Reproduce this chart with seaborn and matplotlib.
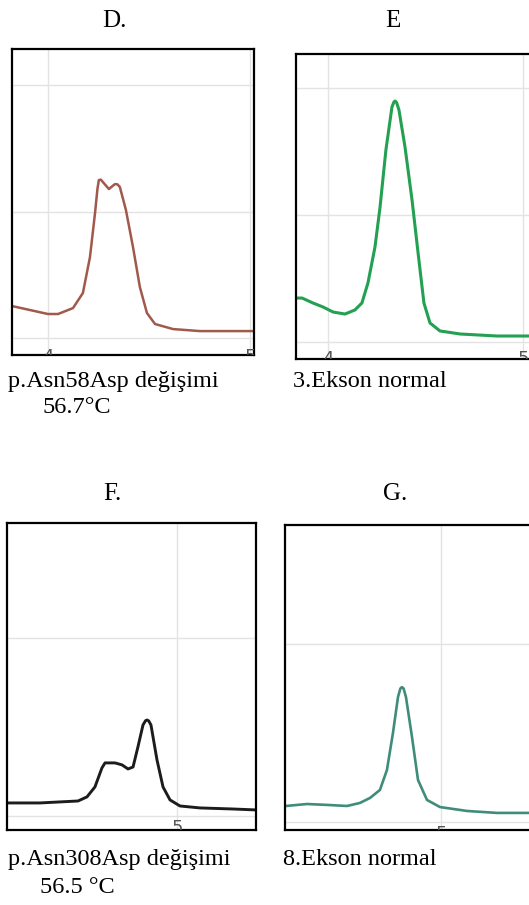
import numpy as np
import pandas as pd
import matplotlib
matplotlib.use("Agg")
from matplotlib import pyplot as plt
from matplotlib.ticker import MultipleLocator
import seaborn as sns

# === DATA (melt curves, arbitrary units)
d_temp = [3.822, 4.000, 4.050, 4.124, 4.173, 4.208, 4.233, 4.245, 4.252, 4.262, 4.272, 4.302,
          4.322, 4.332, 4.344, 4.356, 4.386, 4.421, 4.455, 4.490, 4.530, 4.619, 4.752, 5.015]
d_signal = [0.253, 0.190, 0.190, 0.237, 0.356, 0.640, 0.988, 1.180, 1.249, 1.252, 1.233, 1.178,
            1.205, 1.217, 1.215, 1.194, 1.012, 0.719, 0.403, 0.198, 0.111, 0.071, 0.055, 0.055]

e_temp = [3.841, 3.867, 3.923, 3.974, 4.026, 4.087, 4.138, 4.174, 4.205, 4.241,
          4.267, 4.297, 4.328, 4.338, 4.344, 4.352, 4.364, 4.395, 4.431, 4.462, 4.492, 4.523,
          4.574, 4.677, 4.867, 5.031]
e_signal = [0.346, 0.346, 0.307, 0.276, 0.236, 0.220, 0.252, 0.307, 0.465, 0.748,
            1.063, 1.512, 1.850, 1.890, 1.898, 1.885, 1.827, 1.535, 1.118, 0.701, 0.307, 0.150,
            0.087, 0.063, 0.047, 0.047]

f_temp = [3.786, 4.021, 4.293, 4.357, 4.414, 4.464, 4.486, 4.557, 4.607, 4.650,
          4.686, 4.721, 4.757, 4.775, 4.786, 4.798, 4.814, 4.857, 4.900, 4.950, 5.021, 5.164,
          5.400, 5.557]
f_signal = [0.073, 0.073, 0.084, 0.107, 0.163, 0.270, 0.298, 0.298, 0.287, 0.264,
            0.275, 0.388, 0.511, 0.535, 0.539, 0.534, 0.511, 0.315, 0.163, 0.090, 0.056, 0.045,
            0.039, 0.034]

g_temp = [3.893, 4.043, 4.186, 4.329, 4.421, 4.493, 4.564, 4.614, 4.657, 4.693,
          4.710, 4.721, 4.733, 4.750, 4.793, 4.836, 4.900, 4.993, 5.186, 5.400, 5.629]
g_signal = [0.090, 0.101, 0.096, 0.090, 0.107, 0.135, 0.180, 0.292, 0.500, 0.702,
            0.750, 0.758, 0.750, 0.702, 0.478, 0.236, 0.124, 0.084, 0.062, 0.051, 0.051]

titles = ["D.", "E", "F.", "G."]
caption_line1 = ["p.Asn58Asp değişimi", "3.Ekson normal", "p.Asn308Asp değişimi", "8.Ekson normal"]
caption_line2 = ["56.7°C", "", "56.5 °C", ""]
colors = ["#a0594a", "#23a052", "#1c1c1c", "#3f8c7a"]

# === LAYOUT (pixel boxes: left, top, right, bottom)
W, H = 529, 905
boxes = [(12, 49, 254, 355), (296, 54, 531, 359), (7, 523, 256, 830), (285, 525, 531, 830)]
xlims = [(3.822, 5.020), (3.836, 5.041), (3.786, 5.564), (3.886, 5.643)]
ylims = [(-0.134, 2.285), (-0.134, 2.268), (-0.079, 1.646), (-0.045, 1.669)]
xgrid = [[4, 5], [4, 5], [5], [5]]
ygrid = [[0, 1, 2], [0, 1, 2], [0, 1], [0, 1]]
title_pos = [(102, 27), (385, 27), (103, 500), (383, 500)]
caption_pos = [(8, 387), (293, 387), (8, 865), (283, 865)]
caption2_pos = [(43, 413), None, (40, 893), None]
label_y = [-0.075, -0.06, -0.02, -0.015]

series = [(d_temp, d_signal), (e_temp, e_signal), (f_temp, f_signal), (g_temp, g_signal)]
lws = [1.8, 2.2, 2.1, 1.9]

sns.set_style("white")
plt.rcParams["font.family"] = ["DejaVu Sans"]

fig = plt.figure(figsize=(W / 100, H / 100), dpi=100)

for i in range(4):
    l, t, r, b = boxes[i]
    ax = fig.add_axes([l / W, 1 - b / H, (r - l) / W, (b - t) / H])
    df = pd.DataFrame({"temp": series[i][0], "signal": series[i][1]})
    sns.lineplot(data=df, x="temp", y="signal", ax=ax, color=colors[i],
                 lw=lws[i], sort=False, estimator=None)
    ax.set_xlim(*xlims[i])
    ax.set_ylim(*ylims[i])
    ax.set_xticks(xgrid[i])
    ax.set_yticks(ygrid[i])
    ax.xaxis.set_minor_locator(MultipleLocator(0.2))
    ax.grid(True, color="#e3e3e3", lw=1.0)
    ax.set_axisbelow(True)
    ax.tick_params(axis="x", which="major", length=0, labelbottom=False)
    ax.tick_params(axis="x", which="minor", direction="in", length=3,
                   color="#bbbbbb", width=0.8)
    ax.tick_params(axis="y", length=0, labelleft=False)
    ax.set_xlabel("")
    ax.set_ylabel("")
    for s in ax.spines.values():
        s.set_color("black")
        s.set_linewidth(1.6)
    # partly hidden axis numbers of the original screenshot
    for xv in xgrid[i]:
        ax.text(xv, label_y[i], str(xv), ha="center", va="top", fontsize=13,
                color="#555555", clip_on=True)

    fig.text(title_pos[i][0] / W, 1 - title_pos[i][1] / H, titles[i],
             family="Liberation Serif", fontsize=18, va="baseline", color="black")
    fig.text(caption_pos[i][0] / W, 1 - caption_pos[i][1] / H, caption_line1[i],
             family="Liberation Serif", fontsize=17.5, va="baseline", color="black")
    if caption2_pos[i] is not None:
        fig.text(caption2_pos[i][0] / W, 1 - caption2_pos[i][1] / H, caption_line2[i],
                 family="Liberation Serif", fontsize=17.5, va="baseline", color="black")

fig.savefig("out.png", dpi=100)
